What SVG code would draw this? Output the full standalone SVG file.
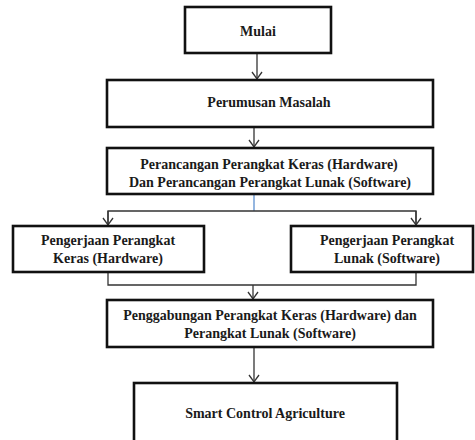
<svg xmlns="http://www.w3.org/2000/svg" width="475" height="440" viewBox="0 0 475 440">
<defs>
<style>
.box{fill:#fff;stroke:#111;stroke-width:2.6}
.t{font-family:"Liberation Serif","Times New Roman",serif;font-weight:bold;font-size:14px;fill:#1a1a1a;text-anchor:middle}
.c{fill:none;stroke:#333;stroke-width:1.3}
.blue{fill:none;stroke:#5b8fd0;stroke-width:1.3}
</style>
<marker id="ah" markerUnits="userSpaceOnUse" viewBox="-9 -7 11 14" markerWidth="11" markerHeight="14" refX="0" refY="0" orient="auto">
<path d="M-7,-5 L0,0 L-7,5" fill="none" stroke="#333" stroke-width="1.3"/>
</marker>
</defs>
<rect width="475" height="440" fill="#fff"/>
<g id="connectors">
<line class="c" x1="257" y1="53" x2="257" y2="79" marker-end="url(#ah)"/>
<line class="c" x1="254" y1="127" x2="254" y2="147" marker-end="url(#ah)"/>
<line class="blue" x1="254" y1="194" x2="254" y2="211"/>
<polyline class="c" points="108,225 108,211 416,211 416,225"/>
<line class="c" x1="108" y1="211" x2="108" y2="225" marker-end="url(#ah)"/>
<line class="c" x1="416" y1="211" x2="416" y2="225" marker-end="url(#ah)"/>
<polyline class="c" points="108,272 108,285 416,285 416,272"/>
<line class="c" x1="253" y1="285" x2="253" y2="299" marker-end="url(#ah)"/>
<line class="c" x1="254" y1="347" x2="254" y2="382" marker-end="url(#ah)"/>
</g>
<g id="mulai">
<rect class="box" x="185" y="7" width="146" height="46"/>
<text class="t" x="258" y="36">Mulai</text>
</g>
<g id="perumusan">
<rect class="box" x="107" y="80" width="326" height="47"/>
<text class="t" x="269" y="107">Perumusan Masalah</text>
</g>
<g id="perancangan">
<rect class="box" x="107" y="148" width="326" height="46"/>
<text class="t" x="269" y="169">Perancangan Perangkat Keras (Hardware)</text>
<text class="t" x="270" y="187">Dan Perancangan Perangkat Lunak (Software)</text>
</g>
<g id="hardware">
<rect class="box" x="13" y="226" width="191" height="46"/>
<text class="t" x="108" y="245">Pengerjaan Perangkat</text>
<text class="t" x="108" y="263">Keras (Hardware)</text>
</g>
<g id="software">
<rect class="box" x="291" y="226" width="182" height="46"/>
<text class="t" x="387" y="245">Pengerjaan Perangkat</text>
<text class="t" x="387" y="263">Lunak (Software)</text>
</g>
<g id="penggabungan">
<rect class="box" x="107" y="300" width="326" height="47"/>
<text class="t" x="270" y="320">Penggabungan Perangkat Keras (Hardware) dan</text>
<text class="t" x="270" y="338">Perangkat Lunak (Software)</text>
</g>
<g id="smart">
<rect class="box" x="134" y="383" width="263" height="70"/>
<text class="t" x="265" y="418">Smart Control Agriculture</text>
</g>
</svg>
